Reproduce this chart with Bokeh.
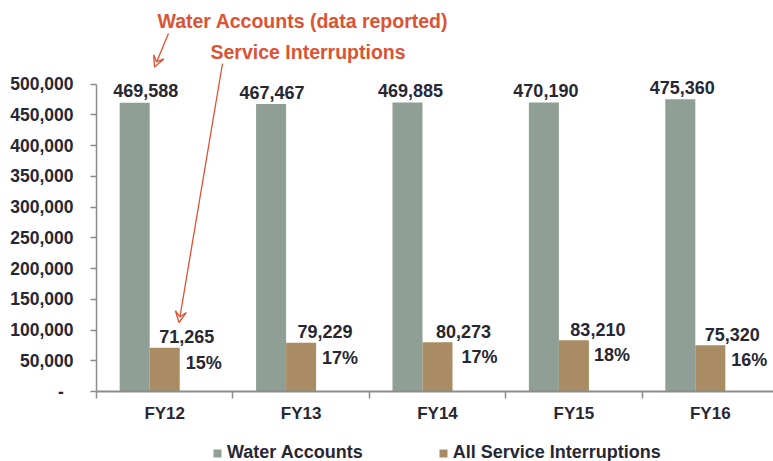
from bokeh.plotting import figure
from bokeh.layouts import column
from bokeh.models import (ColumnDataSource, Range1d, FixedTicker, LabelSet, Label,
                          Arrow, VeeHead, Legend, LegendItem, NumeralTickFormatter)
from bokeh.core.properties import value
from bokeh.embed import file_html
from bokeh.resources import INLINE

# ---------------- data ----------------
categories = ["FY12", "FY13", "FY14", "FY15", "FY16"]
water_accounts = [469588, 467467, 469885, 470190, 475360]
service_interruptions = [71265, 79229, 80273, 83210, 75320]
interruption_pct = ["15%", "17%", "17%", "18%", "16%"]
y_ticks = [0, 50000, 100000, 150000, 200000, 250000, 300000, 350000, 400000, 450000, 500000]
legend_labels = ["Water Accounts", "All Service Interruptions"]

# ---------------- style / layout ----------------
GREEN = "#8f9f95"
BROWN = "#aa8c64"
RED = "#dc5233"
TXT = "#272733"
AXIS = "#8c8c8c"
FONT = "Liberation Sans"

W = 773
H_MAIN = 430
H_LEG = 31
FRAME_LEFT = 96
FRAME_BOTTOM = H_MAIN - 391
PX_PER_CAT = 136.4
PX_PER_UNIT = 307.4 / 500000
BAR_W = 0.22
frame_w = W - FRAME_LEFT
frame_h = H_MAIN - FRAME_BOTTOM
x_end = frame_w / PX_PER_CAT
y_end = frame_h / PX_PER_UNIT

# small pixel nudges for labels (style only)
water_nudge = [11, 1, 3, 2, 2]
si_nudge = [22, 24, 26, 24, 22]
pct_nudge = [39, 39, 42, 38, 39]


def px2x(px):
    return (px - FRAME_LEFT) / PX_PER_CAT


def py2y(py):
    return (frame_h - py) / PX_PER_UNIT


n = len(categories)
centers = [i + 0.5 for i in range(n)]
src = ColumnDataSource(dict(
    cat=categories,
    water=water_accounts,
    si=service_interruptions,
    pct=interruption_pct,
    xg=[c - BAR_W for c in centers],
    xb=centers,
    water_lbl=[f"{v:,}" for v in water_accounts],
    si_lbl=[f"{v:,}" for v in service_interruptions],
    wn=water_nudge, sn=si_nudge, pn=pct_nudge,
))

p = figure(width=W, height=H_MAIN, x_range=Range1d(0, x_end), y_range=Range1d(0, y_end),
           output_backend="svg", toolbar_location=None,
           min_border_left=FRAME_LEFT, min_border_right=0, min_border_top=0,
           min_border_bottom=FRAME_BOTTOM)
p.outline_line_color = None
p.grid.visible = False
p.background_fill_color = "white"
p.border_fill_color = "white"

r1 = p.vbar(x="xg", top="water", width=BAR_W, source=src, fill_color=GREEN, line_color=None)
r2 = p.vbar(x="xb", top="si", width=BAR_W, source=src, fill_color=BROWN, line_color=None)

# y axis
ya = p.yaxis[0]
ya.ticker = FixedTicker(ticks=y_ticks)
ya.formatter = NumeralTickFormatter(format="0,0")
ya.major_label_overrides = {0: "-\u00a0\u00a0"}
ya.bounds = (0, 500000)
ya.major_tick_out = 6
ya.major_tick_in = 0
ya.minor_tick_line_color = None
ya.axis_line_color = AXIS
ya.axis_line_width = 1.5
ya.major_tick_line_color = AXIS
ya.major_tick_line_width = 1.5
ya.major_label_standoff = 17
ya.major_label_text_font = FONT
ya.major_label_text_font_style = "bold"
ya.major_label_text_font_size = "17.5px"
ya.major_label_text_color = TXT

# x axis
xa = p.xaxis[0]
xa.ticker = FixedTicker(ticks=centers, minor_ticks=list(range(n + 1)))
xa.major_label_overrides = {c: lab for c, lab in zip(centers, categories)}
xa.major_tick_line_color = None
xa.major_tick_out = 0
xa.major_tick_in = 0
xa.minor_tick_out = 7
xa.minor_tick_in = 0
xa.minor_tick_line_color = AXIS
xa.minor_tick_line_width = 1.5
xa.axis_line_color = AXIS
xa.axis_line_width = 2
xa.major_label_standoff = 5
xa.major_label_text_font = FONT
xa.major_label_text_font_style = "bold"
xa.major_label_text_font_size = "17px"
xa.major_label_text_color = TXT

common = dict(source=src, text_font=value(FONT), text_font_style="bold", text_font_size="18px",
              text_color=TXT, text_align="center", text_baseline="middle")
p.add_layout(LabelSet(x="xg", y="water", text="water_lbl", x_offset="wn", y_offset=12, **common))
p.add_layout(LabelSet(x="xb", y="si", text="si_lbl", x_offset="sn", y_offset=11, **common))
p.add_layout(LabelSet(x="xb", y="si", text="pct", x_offset="pn", y_offset=-15, **common))

# red annotations
for txt, px, py in [("Water Accounts (data reported)", 157, 20),
                    ("Service Interruptions", 210, 51)]:
    p.add_layout(Label(x=px2x(px), y=py2y(py), text=txt, text_font=FONT,
                       text_font_style="bold", text_font_size="19.5px", text_color=RED,
                       text_align="left", text_baseline="middle"))
for (sx, sy, ex, ey) in [(168, 33, 154, 66.5), (222, 63, 178.5, 322)]:
    p.add_layout(Arrow(x_start=px2x(sx), y_start=py2y(sy), x_end=px2x(ex), y_end=py2y(ey),
                       line_color=RED, line_width=1.3,
                       end=VeeHead(size=11, line_color=RED, line_width=1.3, fill_color=None)))

# legend strip below the chart (its own frame is aligned with the chart's frame)
lf = figure(width=W, height=H_LEG, x_range=Range1d(0, 1), y_range=Range1d(0, 1),
            output_backend="svg", toolbar_location=None, x_axis_type=None, y_axis_type=None,
            min_border=0)
lf.outline_line_color = None
lf.grid.visible = False
lr1 = lf.vbar(x="xg", top="water", width=BAR_W, source=src, fill_color=GREEN, line_color=None,
              visible=False)
lr2 = lf.vbar(x="xb", top="si", width=BAR_W, source=src, fill_color=BROWN, line_color=None,
              visible=False)
legend = Legend(items=[LegendItem(label=legend_labels[0], renderers=[lr1], index=0),
                       LegendItem(label=legend_labels[1], renderers=[lr2], index=0)],
                orientation="horizontal", location=(116, -2), padding=0, margin=0,
                spacing=75, label_standoff=5, glyph_width=10, glyph_height=10,
                label_text_font=FONT, label_text_font_style="bold",
                label_text_font_size="18px", label_text_color=TXT,
                inactive_fill_alpha=0,
                border_line_color=None, background_fill_alpha=0)
lf.add_layout(legend)

open("out.html", "w").write(file_html(column(p, lf, spacing=0), INLINE))
